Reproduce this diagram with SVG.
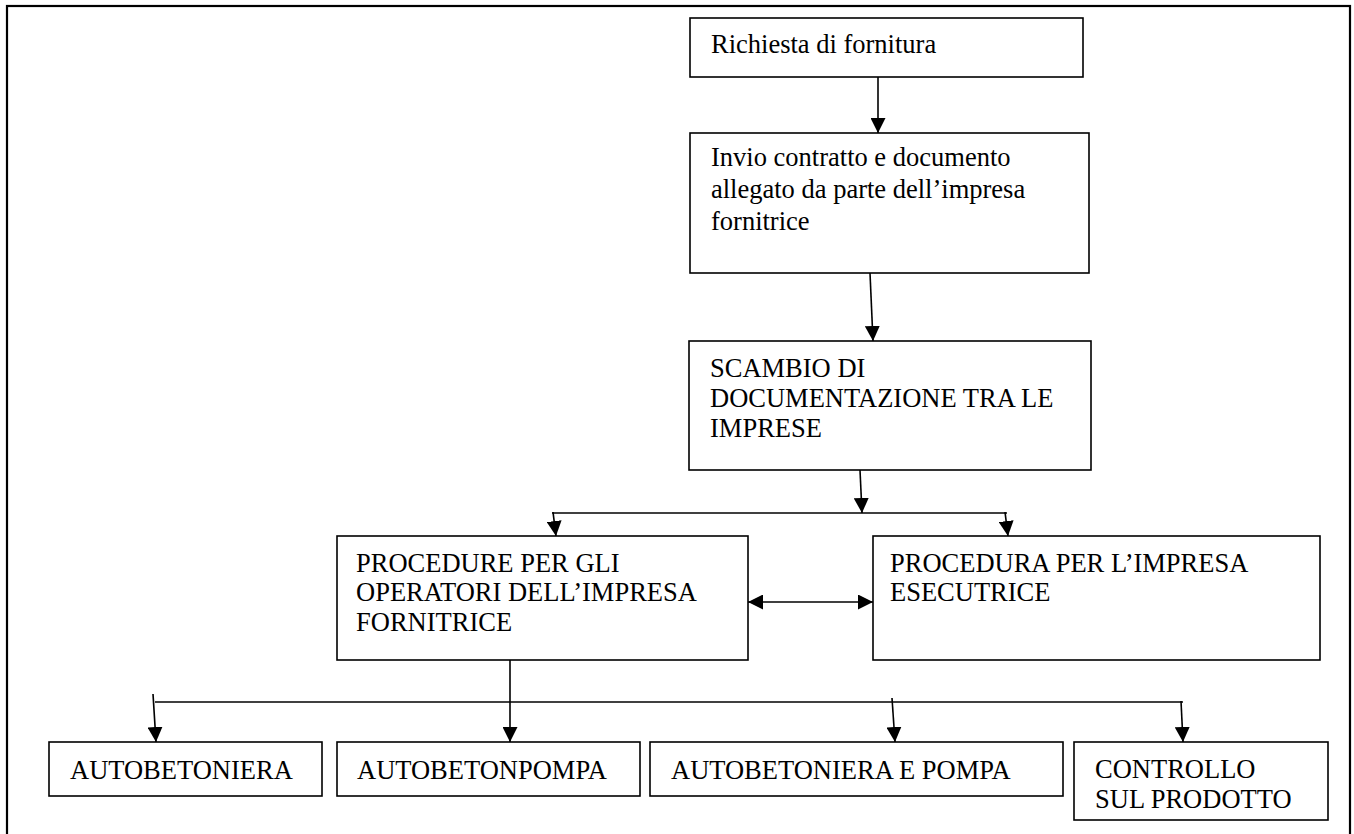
<svg xmlns="http://www.w3.org/2000/svg" width="1354" height="834" viewBox="0 0 1354 834">
<style>
.box{fill:#fff;stroke:#000;stroke-width:1.6}
.t{font-family:"Liberation Serif","Times New Roman",serif;font-size:26.5px;fill:#000}
.c{fill:none;stroke:#000;stroke-width:1.6}
.a{marker-end:url(#ah)}
</style>
<defs>
<marker id="ah" markerUnits="userSpaceOnUse" markerWidth="16" markerHeight="15" refX="15" refY="7.5" orient="auto-start-reverse">
<path d="M0,0 L15,7.5 L0,15 z" fill="#000"/>
</marker>
</defs>
<rect x="7" y="6" width="1343" height="840" fill="#fff" stroke="#000" stroke-width="2.2"/>
<g id="n1"><rect class="box" x="690" y="18" width="393" height="59"/><text class="t" x="711" y="53">Richiesta di fornitura</text></g>
<g id="n2"><rect class="box" x="690" y="133" width="399" height="140"/><text class="t"><tspan x="711" y="166">Invio contratto e documento</tspan><tspan x="711" y="198">allegato da parte dell’impresa</tspan><tspan x="711" y="230">fornitrice</tspan></text></g>
<g id="n3"><rect class="box" x="689" y="341" width="402" height="129"/><text class="t"><tspan x="710" y="377">SCAMBIO DI</tspan><tspan x="710" y="407">DOCUMENTAZIONE TRA LE</tspan><tspan x="710" y="437">IMPRESE</tspan></text></g>
<g id="n4"><rect class="box" x="337" y="536" width="411" height="124"/><text class="t"><tspan x="356" y="572">PROCEDURE PER GLI</tspan><tspan x="356" y="601">OPERATORI DELL’IMPRESA</tspan><tspan x="356" y="631">FORNITRICE</tspan></text></g>
<g id="n5"><rect class="box" x="873" y="536" width="447" height="124"/><text class="t"><tspan x="890" y="572">PROCEDURA PER L’IMPRESA</tspan><tspan x="890" y="601">ESECUTRICE</tspan></text></g>
<g id="n6"><rect class="box" x="49" y="742" width="273" height="54"/><text class="t" x="70" y="779">AUTOBETONIERA</text></g>
<g id="n7"><rect class="box" x="337" y="742" width="303" height="54"/><text class="t" x="357" y="779">AUTOBETONPOMPA</text></g>
<g id="n8"><rect class="box" x="650" y="742" width="413" height="54"/><text class="t" x="671" y="779">AUTOBETONIERA E POMPA</text></g>
<g id="n9"><rect class="box" x="1074" y="742" width="254" height="78"/><text class="t"><tspan x="1095" y="778">CONTROLLO</tspan><tspan x="1095" y="808">SUL PRODOTTO</tspan></text></g>
<g id="connectors">
<line class="c a" x1="878" y1="77" x2="878" y2="133"/>
<line class="c a" x1="870" y1="273" x2="873" y2="341"/>
<line class="c a" x1="860" y1="470" x2="862" y2="513"/>
<line class="c" x1="552" y1="513" x2="1007" y2="513"/>
<line class="c a" x1="553" y1="512" x2="556" y2="536"/>
<line class="c a" x1="1005" y1="512" x2="1008" y2="536"/>
<line class="c a" x1="748" y1="602" x2="873" y2="602" marker-start="url(#ah)"/>
<line class="c a" x1="510" y1="660" x2="510" y2="742"/>
<line class="c" x1="155" y1="702" x2="1183" y2="702"/>
<line class="c a" x1="153" y1="694" x2="156" y2="742"/>
<line class="c a" x1="892" y1="698" x2="895" y2="742"/>
<line class="c a" x1="1181" y1="701" x2="1183" y2="742"/>
</g>
</svg>
